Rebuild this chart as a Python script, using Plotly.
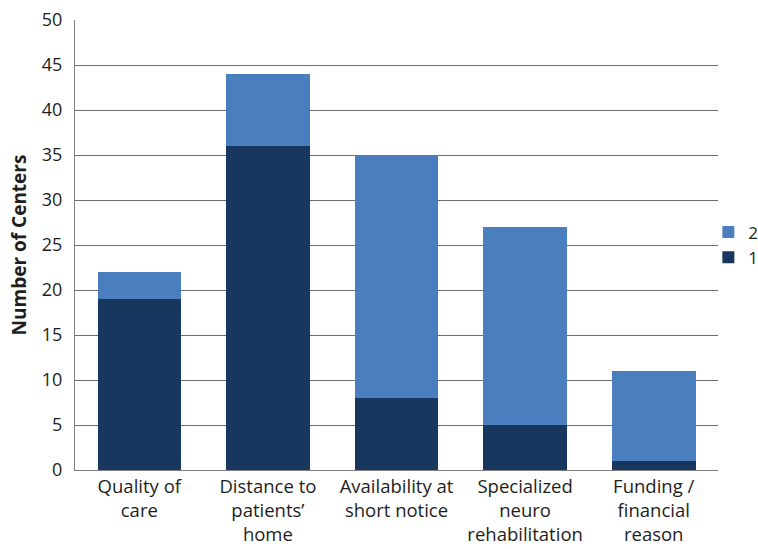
import plotly.graph_objects as go

categories = ["Quality of<br>care", "Distance to<br>patients’<br>home", "Availability at<br>short notice",
              "Specialized<br>neuro<br>rehabilitation", "Funding /<br>financial<br>reason"]
series1 = [19, 36, 8, 5, 1]
series2 = [3, 8, 27, 22, 10]
y_ticks = [0, 5, 10, 15, 20, 25, 30, 35, 40, 45, 50]

FONT = "Open Sans"
fig = go.Figure()
fig.add_trace(go.Bar(x=categories, y=series1, name="1", marker=dict(color="#17375E", line=dict(width=0))))
fig.add_trace(go.Bar(x=categories, y=series2, name="2", marker=dict(color="#4A7EBF", line=dict(width=0))))

fig.update_layout(
    width=758, height=549,
    barmode="stack", bargap=0.35,
    plot_bgcolor="white", paper_bgcolor="white",
    margin=dict(l=75, r=40, t=20, b=79, autoexpand=False),
    font=dict(family=FONT, size=18, color="#1E1E1E"),
    legend=dict(x=0.985, y=0.5, xanchor="left", yanchor="middle", traceorder="reversed",
                font=dict(size=17), itemwidth=30, bgcolor="rgba(0,0,0,0)"),
    xaxis=dict(showline=True, linecolor="#808080", linewidth=1, ticks="", tickfont=dict(size=18.5)),
    yaxis=dict(range=[0, 50], tickvals=y_ticks, showgrid=True, gridcolor="#6E6E6E", gridwidth=1,
               showline=True, linecolor="#808080", linewidth=1, zeroline=False, ticks="",
               tickfont=dict(size=18), ticklabelstandoff=8,
               title=dict(text="<b>Number of Centers</b>", font=dict(size=19), standoff=10)),
)
fig.write_html("out.html")
